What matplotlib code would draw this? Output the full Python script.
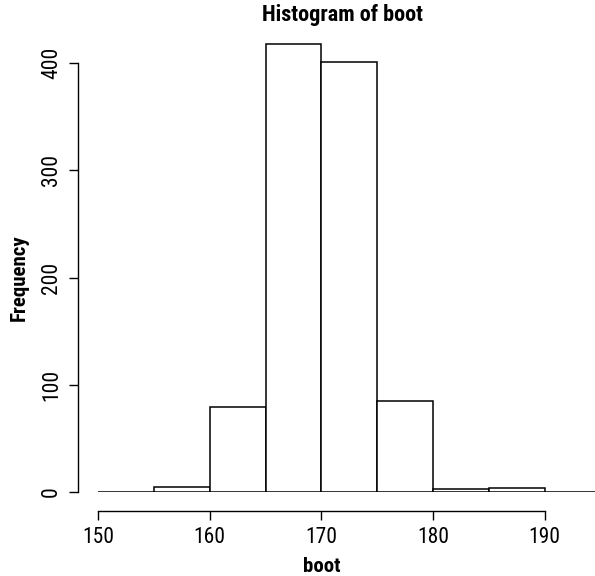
import numpy as np
import matplotlib
matplotlib.use("Agg")
import matplotlib.pyplot as plt

# histogram of bootstrap values (R style)
breaks = [150, 155, 160, 165, 170, 175, 180, 185, 190, 195]
counts = [0, 5, 79, 418, 401, 85, 3, 4, 0]
x_ticks = [150, 160, 170, 180, 190]
y_ticks = [0, 100, 200, 300, 400]

plt.rcParams['font.family'] = ['Roboto Condensed', 'Liberation Sans Narrow', 'Roboto', 'DejaVu Sans']

W, H = 595, 576
fig = plt.figure(figsize=(W / 100, H / 100), dpi=100)

# axes placed so that 150 -> 98px and 0 -> 492px
ax = fig.add_axes([98 / W, (H - 492) / H, 497 / W, (492 - 41.9) / H])
ax.set_xlim(150, 150 + 497 / 11.17)
ax.set_ylim(0, 420)

ax.bar(breaks[:-1], counts, width=np.diff(breaks), align='edge',
       color='white', edgecolor='black', linewidth=1.1)

for side in ['top', 'right']:
    ax.spines[side].set_visible(False)
# outward offsets are in points (px * 0.72)
ax.spines['bottom'].set_position(('outward', 13.7))
ax.spines['left'].set_position(('outward', 14.4))
ax.spines['bottom'].set_bounds(150, 190)
ax.spines['left'].set_bounds(0, 400)
for side in ['bottom', 'left']:
    ax.spines[side].set_linewidth(1.0)

ax.set_xticks(x_ticks)
ax.set_yticks(y_ticks)
ax.set_yticklabels([str(v) for v in y_ticks], rotation=90, va='center')
ax.tick_params(axis='both', length=6.5, width=1.0, pad=5, labelsize=15.5)

fig.text(343 / W, 1 - 15 / H, 'Histogram of boot', ha='center', va='center',
         fontsize=16, fontweight='bold')
fig.text(322 / W, 1 - 566 / H, 'boot', ha='center', va='center',
         fontsize=15, fontweight='bold')
fig.text(19 / W, 1 - 278 / H, 'Frequency', ha='center', va='center',
         rotation=90, fontsize=15, fontweight='bold')

fig.savefig('out.png', dpi=100)
